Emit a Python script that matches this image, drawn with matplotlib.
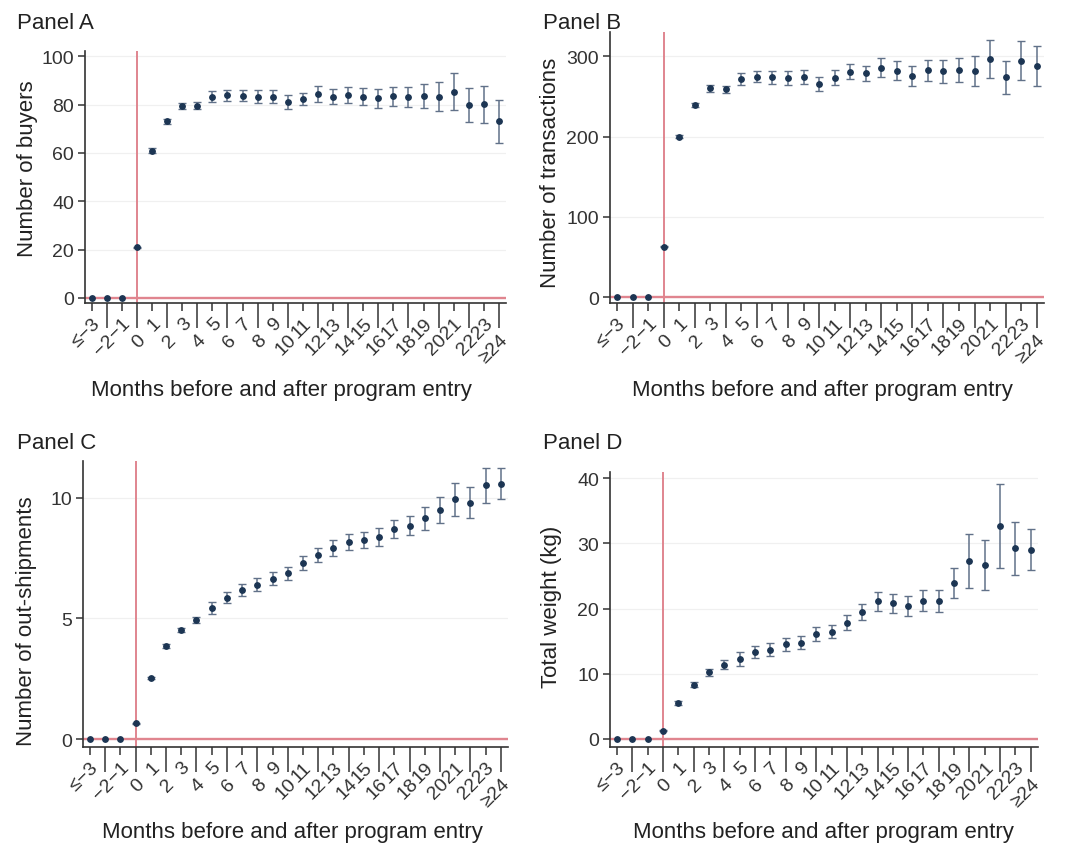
import matplotlib
matplotlib.use("Agg")

import matplotlib.pyplot as plt
import numpy as np

plt.rcParams.update({
    "font.family": ["Liberation Sans", "DejaVu Sans"],
    "axes.spines.top": False,
    "axes.spines.right": False,
    "axes.edgecolor": "#333333",
    "xtick.color": "#333333",
    "ytick.color": "#333333",
    "text.color": "#222222",
    "axes.labelcolor": "#222222",
})

# ── Data ─────────────────────────────────────────────────────────────────────
MONTH_LABELS = ["≤−3", "−2", "−1"] + [str(m) for m in range(0, 24)] + ["≥24"]

buyers = [0, 0, 0, 21, 61, 73.2, 79.6, 79.6, 83.3, 83.9, 83.7, 83.3, 83.3, 81.0,
          82.3, 84.4, 83.2, 84.0, 83.3, 82.6, 83.4, 83.2, 83.7, 83.3, 85.4, 79.9,
          80.1, 73.2]
buyers_ci = [0, 0, 0, 0.3, 1.0, 1.0, 1.2, 1.3, 2.2, 2.3, 2.3, 2.7, 2.6, 2.8,
             2.6, 3.3, 3.1, 3.4, 3.5, 3.9, 4.1, 4.3, 5.0, 6.0, 7.5, 7.0, 7.8, 8.9]

transactions = [0, 0, 0, 63, 200, 239.4, 260, 259, 271.8, 274.7, 274, 273, 274,
                265.6, 273.4, 281, 279, 286, 282, 276, 282.6, 281.3, 283.4,
                281.3, 297, 274, 294.6, 288]
transactions_ci = [0, 0, 0, 1, 2, 3, 4, 4.5, 7.5, 6.6, 8.1, 8.9, 8.7, 8.5, 9.3,
                   9.7, 9.5, 11.6, 11.8, 12.4, 12.7, 13.9, 14.9, 18.7, 23.9,
                   20.3, 24.5, 25.1]

shipments = [0, 0, 0, 0.65, 2.53, 3.84, 4.52, 4.93, 5.43, 5.86, 6.16, 6.40,
             6.64, 6.86, 7.29, 7.62, 7.91, 8.16, 8.23, 8.36, 8.69, 8.84, 9.14,
             9.50, 9.93, 9.80, 10.52, 10.58]
shipments_ci = [0, 0, 0, 0.03, 0.06, 0.08, 0.10, 0.12, 0.24, 0.22, 0.25, 0.27,
                0.27, 0.28, 0.29, 0.30, 0.32, 0.33, 0.33, 0.37, 0.37, 0.40,
                0.46, 0.54, 0.69, 0.66, 0.72, 0.64]

weight = [0, 0, 0, 1.28, 5.47, 8.34, 10.23, 11.4, 12.28, 13.35, 13.7, 14.5,
          14.8, 16.06, 16.47, 17.85, 19.44, 21.1, 20.8, 20.4, 21.2, 21.2, 23.9,
          27.3, 26.7, 32.7, 29.26, 29.05]
weight_ci = [0, 0, 0, 0.1, 0.3, 0.4, 0.5, 0.7, 1.1, 0.9, 1.0, 1.05, 1.0, 1.05,
             1.05, 1.1, 1.25, 1.4, 1.45, 1.5, 1.6, 1.7, 2.3, 4.2, 3.85, 6.5,
             4.05, 3.1]

W, H = 1080, 853
REF_RED = "#e0858f"
DOT = "#1c3553"
BAR = "#617189"


def draw_panel(rect, title, title_xy, values, ci, ylabel, yticks, ylim,
               ylab_pos, xlab_pos):
    left, top, right, bottom = rect
    ax = fig.add_axes([left / W, 1 - bottom / H, (right - left) / W, (bottom - top) / H])
    w_px, h_px = right - left, bottom - top

    x = np.arange(len(MONTH_LABELS))
    vals = np.array(values)
    err = np.array(ci)

    for yt in yticks:
        ax.axhline(yt, color="#f0f0f0", lw=0.9, zorder=0)
    ax.axvline(3, color=REF_RED, lw=1.4, zorder=1)
    ax.axhline(0, color=REF_RED, lw=1.7, zorder=1)

    m = err > 0
    ax.errorbar(x[m], vals[m], yerr=err[m], fmt="none", ecolor=BAR,
                elinewidth=1.1, capsize=2.6, capthick=1.0, zorder=2)
    ax.plot(x, vals, "o", color=DOT, markersize=3.9, zorder=3)

    ax.set_xlim(-0.45, 27.47)
    ax.set_ylim(*ylim)
    ax.set_yticks(yticks)
    ax.tick_params(axis="y", length=5, width=1.1, pad=3, labelsize=14)

    # Stata-style staggered labels: even positions on short ticks, odd on long
    ax.set_xticks(x[::2])
    ax.set_xticklabels(MONTH_LABELS[::2], rotation=45, ha="right", va="top",
                       rotation_mode="anchor", fontsize=14)
    ax.set_xticks(x[1::2], minor=True)
    ax.set_xticklabels(MONTH_LABELS[1::2], minor=True, rotation=45, ha="right",
                       va="top", rotation_mode="anchor", fontsize=14)
    ax.tick_params(axis="x", which="major", length=6, width=1.1, pad=2)
    ax.tick_params(axis="x", which="minor", length=18, width=1.1, pad=2)
    for sp in ("left", "bottom"):
        ax.spines[sp].set_linewidth(1.2)

    ax.set_ylabel(ylabel, fontsize=16, va="center")
    ax.yaxis.set_label_coords((ylab_pos[0] - left) / w_px, (bottom - ylab_pos[1]) / h_px)
    ax.set_xlabel("Months before and after program entry", fontsize=16, va="baseline")
    ax.xaxis.set_label_coords((xlab_pos[0] - left) / w_px, (bottom - xlab_pos[1]) / h_px)

    fig.text(title_xy[0] / W, 1 - title_xy[1] / H, title, fontsize=16,
             ha="left", va="baseline")
    return ax


fig = plt.figure(figsize=(W / 100, H / 100), dpi=100)

draw_panel((85, 52, 506, 304), "Panel A", (17, 29), buyers, buyers_ci,
           "Number of buyers", [0, 20, 40, 60, 80, 100], (-2.07, 102.2),
           (27.5, 169), (281, 396))
draw_panel((610, 33, 1044, 304), "Panel B", (543, 29), transactions, transactions_ci,
           "Number of transactions", [0, 100, 200, 300], (-7.1, 330.3),
           (550, 172.5), (822, 396))
draw_panel((83, 462, 508, 748), "Panel C", (17, 449), shipments, shipments_ci,
           "Number of out-shipments", [0, 5, 10], (-0.33, 11.52),
           (27, 621), (292.5, 838))
draw_panel((610, 473, 1038, 748), "Panel D", (543, 449), weight, weight_ci,
           "Total weight (kg)", [0, 10, 20, 30, 40], (-1.23, 40.97),
           (552, 607), (823, 838))

fig.savefig("out.png", dpi=100)
